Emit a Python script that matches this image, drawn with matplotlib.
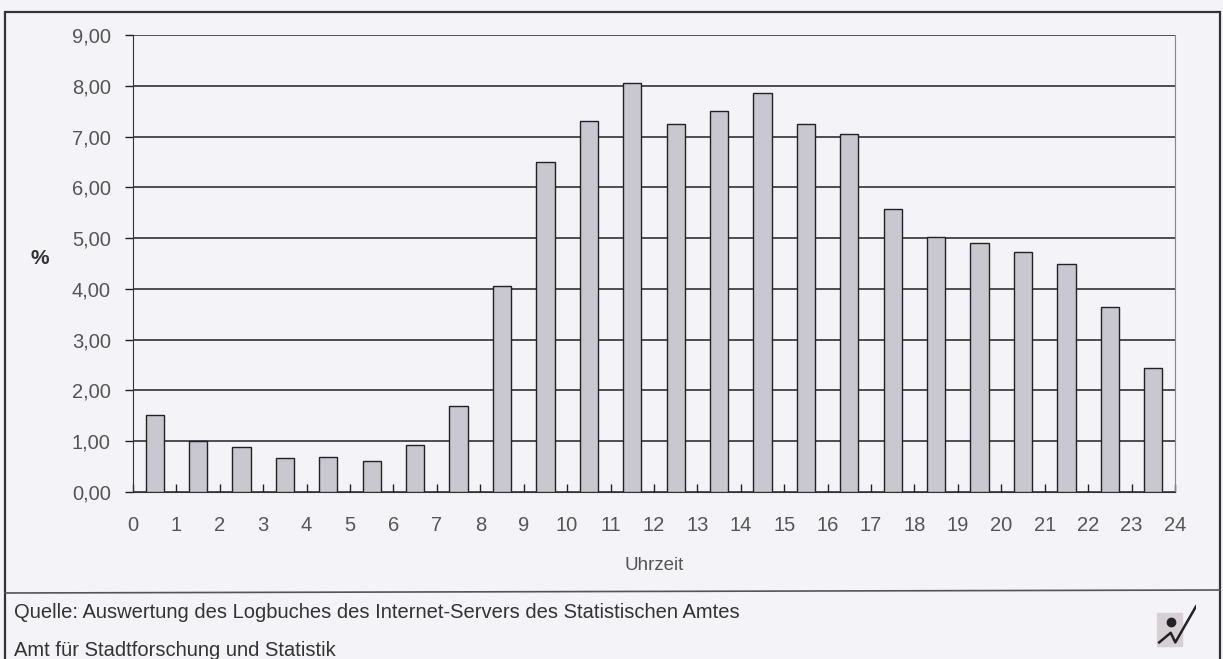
import numpy as np
import matplotlib
matplotlib.use("Agg")
import matplotlib.pyplot as plt
from matplotlib.patches import Rectangle
from matplotlib.lines import Line2D

# Anteil der Zugriffe je Stunde (%)
hours = np.arange(24) + 0.5
share = [1.52, 1.00, 0.88, 0.66, 0.68, 0.62, 0.93, 1.70, 4.05, 6.50, 7.30, 8.05,
         7.25, 7.50, 7.85, 7.25, 7.05, 5.58, 5.02, 4.90, 4.72, 4.50, 3.65, 2.45]
x_ticks = list(range(25))
y_ticks = list(range(10))

source_text = "Quelle: Auswertung des Logbuches des Internet-Servers des Statistischen Amtes"
office_text = "Amt für Stadtforschung und Statistik"

bg = "#f3f3f8"
text_col = "#555555"
plt.rcParams['font.family'] = ['Liberation Sans', 'DejaVu Sans']

fig = plt.figure(figsize=(12.23, 6.59), dpi=100, facecolor=bg)
ax = fig.add_axes([0.1087, 0.2534, 0.852, 0.6935], facecolor=bg)

ax.bar(hours, share, width=0.42, color="#c9c7cf", edgecolor="#222222", linewidth=1.0, zorder=3)

ax.set_xlim(0, 24)
ax.set_ylim(0, 9)
ax.set_xticks(x_ticks)
ax.set_xticklabels([str(t) for t in x_ticks])
ax.set_yticks(y_ticks)
ax.set_yticklabels([f"{v:.2f}".replace(".", ",") for v in y_ticks])
ax.yaxis.grid(True, color="#222222", linewidth=1.1, zorder=1)
ax.set_axisbelow(True)
ax.tick_params(axis="both", colors="#222222", labelcolor=text_col, labelsize=14.5, length=6, width=1)
ax.tick_params(axis="x", direction="in", pad=17)
ax.tick_params(axis="y", direction="out", pad=10)
ax.spines["top"].set_visible(False)
ax.spines["left"].set_color("#333333")
ax.spines["bottom"].set_color("#333333")
ax.spines["right"].set_color("#888888")
ax.spines["right"].set_linewidth(0.8)

ax.set_xlabel("Uhrzeit", color=text_col, fontsize=13.5, labelpad=16)
fig.text(40 / 1223, 1 - 258 / 659, "%", color="#333333", fontsize=15, fontweight="bold",
         ha="center", va="center")

# outer frame and separator
fig.add_artist(Rectangle((5 / 1223, -0.02), 1215 / 1223, 1 - 12 / 659 + 0.02,
                         transform=fig.transFigure, fill=False, edgecolor="#333333", linewidth=1.6))
fig.add_artist(Line2D([5 / 1223, 1220 / 1223], [1 - 593 / 659, 1 - 590 / 659],
                      transform=fig.transFigure, color="#555555", linewidth=1.2))

fig.text(14 / 1223, 1 - 613 / 659, source_text, color="#333333", fontsize=14.5, va="center")
fig.text(14 / 1223, 1 - 651 / 659, office_text, color="#333333", fontsize=14.5, va="center")

# simple logo bottom right
lax = fig.add_axes([1150 / 1223, 1 - 652 / 659, 46 / 1223, 48 / 659])
lax.set_xlim(0, 1)
lax.set_ylim(0, 1)
lax.axis("off")
lax.add_patch(Rectangle((0.15, 0.12), 0.55, 0.7, color="#d6cfd4"))
lax.plot([0.2, 0.45, 0.55, 1.0], [0.2, 0.4, 0.2, 0.95], color="#222222", linewidth=1.8)
lax.plot([0.45], [0.62], "o", color="#222222", markersize=6)

fig.savefig("out.png", dpi=100, facecolor=bg)
